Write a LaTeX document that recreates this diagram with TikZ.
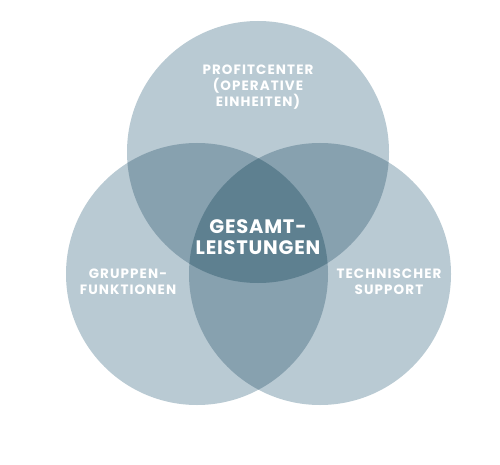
\documentclass[tikz,border=0pt]{standalone}
\usepackage{fontspec}
\setmainfont{Poppins}[LetterSpace=8]
\newfontfamily\centerfont{Poppins}[LetterSpace=4]
\definecolor{cone}{HTML}{B9CAD3}
\definecolor{ctwo}{HTML}{87A1AF}
\definecolor{cthree}{HTML}{5E8090}
\begin{document}
\begin{tikzpicture}[x=1pt,y=-1pt,
  lbl/.style={text=white,align=center,font=\fontsize{13.5}{16}\selectfont\bfseries,inner sep=0pt},
  clbl/.style={text=white,align=center,font=\centerfont\fontsize{19.5}{20.5}\selectfont\bfseries,inner sep=0pt}]
\useasboundingbox (0,0) rectangle (500,465);
\def\rr{131}
\coordinate (ct) at (258,152);
\coordinate (cl) at (197,274);
\coordinate (cr) at (320,274);
\fill[cone] (ct) circle (\rr);
\fill[cone] (cl) circle (\rr);
\fill[cone] (cr) circle (\rr);
\begin{scope}
\clip (ct) circle (\rr);
\fill[ctwo] (cl) circle (\rr);
\fill[ctwo] (cr) circle (\rr);
\end{scope}
\begin{scope}
\clip (cl) circle (\rr);
\fill[ctwo] (cr) circle (\rr);
\end{scope}
\begin{scope}
\clip (ct) circle (\rr);
\clip (cl) circle (\rr);
\fill[cthree] (cr) circle (\rr);
\end{scope}
\node[lbl] (tl) at (258,87) {PROFITCENTER\\(OPERATIVE\\EINHEITEN)};
\node[clbl] (ml) at (258,237) {GESAMT-\\LEISTUNGEN};
\node[lbl] (ll) at (128,282) {GRUPPEN-\\FUNKTIONEN};
\node[lbl] (rl) at (389,282) {TECHNISCHER\\SUPPORT};
\end{tikzpicture}
\end{document}
